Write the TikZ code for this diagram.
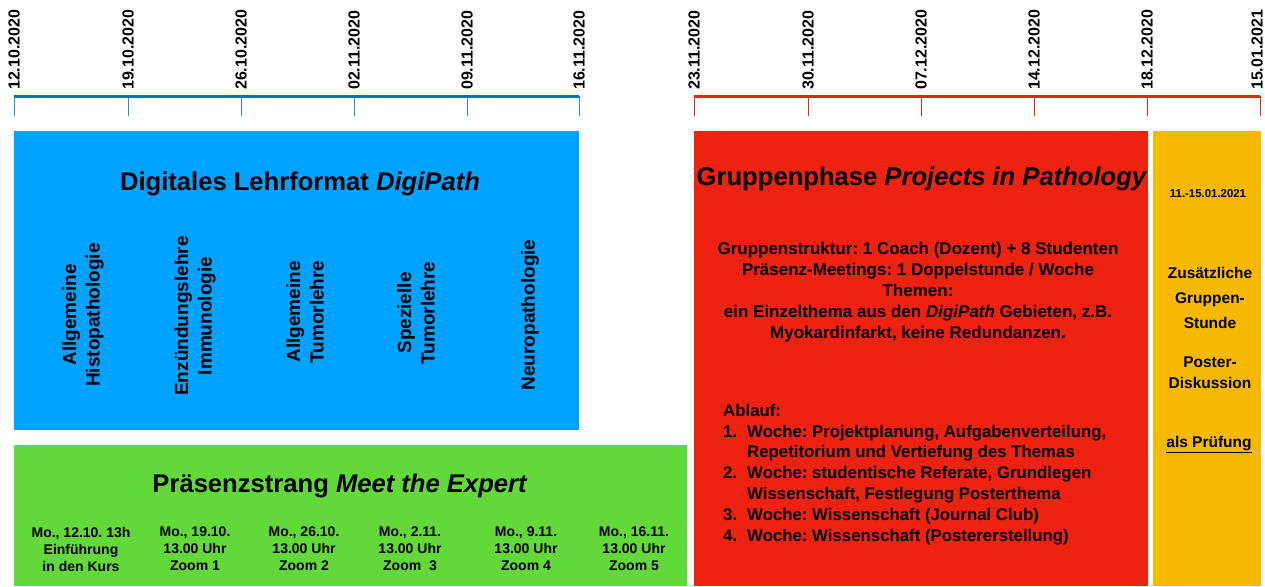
\documentclass[tikz,border=0pt]{standalone}
\usepackage{fontspec}
\setmainfont{Liberation Sans}
\usetikzlibrary{positioning}
\frenchspacing
\definecolor{lineblue}{RGB}{0,112,192}
\definecolor{tickblue}{RGB}{40,140,210}
\definecolor{boxblue}{RGB}{0,162,255}
\definecolor{boxgreen}{RGB}{98,216,58}
\definecolor{boxred}{RGB}{238,34,16}
\definecolor{boxyellow}{RGB}{246,184,0}
\tikzset{
  datum/.style={rotate=90,anchor=west,inner sep=0pt,font=\fontsize{16}{16}\selectfont\bfseries},
  titel/.style={font=\fontsize{25.6}{28}\selectfont\bfseries},
  fach/.style={rotate=90,align=center,inner sep=0pt,font=\fontsize{19}{23.5}\selectfont\bfseries},
  termin/.style={align=center,inner sep=0pt,font=\fontsize{14}{17}\selectfont\bfseries},
  info/.style={align=center,inner sep=0pt,font=\fontsize{15.5}{25}\selectfont\bfseries}
}
\begin{document}
\begin{tikzpicture}[x=1pt,y=-1pt]
  \useasboundingbox (0,0) rectangle (1265,586);
  \fill[white] (0,0) rectangle (1265,586);
  % Zeitachse Online-Phase
  \foreach \x/\d [count=\i] in {14/12.10.2020,128/19.10.2020,241/26.10.2020,
                                354/02.11.2020,467/09.11.2020,579/16.11.2020}{
    \draw[tickblue, line width=1pt] (\x,96) -- (\x,116);
    \node[datum] (db\i) at (\x,90) {\d};
  }
  \draw[lineblue, line width=3pt] (14,96) -- (579,96);
  % Zeitachse Gruppenphase
  \foreach \x/\d [count=\i] in {694/23.11.2020,808/30.11.2020,921/07.12.2020,
                                1034/14.12.2020,1147/18.12.2020,1260/15.01.2021}{
    \draw[boxred, line width=1pt] (\x,96) -- (\x,116);
    \node[datum] (dr\i) at ({min(\x,1257)},90) {\d};
  }
  \draw[boxred, line width=3pt] (694,96) -- (1260,96);
  % DigiPath
  \fill[boxblue] (14,131) rectangle (579,430);
  \node[titel] (digi) at (300,184) {Digitales Lehrformat \textit{DigiPath}};
  \node[fach] (f1) at (83,315) {Allgemeine\\Histopathologie};
  \node[fach] (f2) at (195,316) {Enzündungslehre\\Immunologie};
  \node[fach] (f3) at (305,312) {Allgemeine\\Tumorlehre};
  \node[fach] (f4) at (416,313) {Spezielle\\Tumorlehre};
  \node[fach] (f5) at (530,315) {Neuropathologie};
  % Meet the Expert
  \fill[boxgreen] (14,445) rectangle (687,586);
  \node[titel] (expert) at (340,486) {Präsenzstrang \textit{Meet the Expert}};
  \node[termin] (t1) at (81,549) {Mo., 12.10. 13h\\Einführung\\in den Kurs};
  \node[termin] (t2) at (195,549) {Mo., 19.10.\\13.00 Uhr\\Zoom 1};
  \node[termin] (t3) at (304,549) {Mo., 26.10.\\13.00 Uhr\\Zoom 2};
  \node[termin] (t4) at (410,549) {Mo., 2.11.\\13.00 Uhr\\Zoom\ \ 3};
  \node[termin] (t5) at (526,549) {Mo., 9.11.\\13.00 Uhr\\Zoom 4};
  \node[termin] (t6) at (634,549) {Mo., 16.11.\\13.00 Uhr\\Zoom 5};
  % Projects in Pathology
  \fill[boxred] (694,131) rectangle (1148,586);
  \node[titel] (projekt) at (922,179) {Gruppenphase \textit{Projects in Pathology}};
  \node[info, font=\fontsize{17}{21}\selectfont\bfseries] (struktur) at (918,292)
    {Gruppenstruktur: 1 Coach (Dozent) + 8 Studenten\\
     Präsenz-Meetings: 1 Doppelstunde / Woche\\
     Themen:\\
     ein Einzelthema aus den \textit{DigiPath} Gebieten, z.B.\\
     Myokardinfarkt, keine Redundanzen.};
  \node[info, align=left, anchor=north west, font=\fontsize{16.8}{20.8}\selectfont\bfseries] (ablauf) at (723,404)
    {Ablauf:\\
     \makebox[24pt][l]{1.}Woche: Projektplanung, Aufgabenverteilung,\\
     \hspace*{24pt}Repetitorium und Vertiefung des Themas\\
     \makebox[24pt][l]{2.}Woche: studentische Referate, Grundlegen\\
     \hspace*{24pt}Wissenschaft, Festlegung Posterthema\\
     \makebox[24pt][l]{3.}Woche: Wissenschaft (Journal Club)\\
     \makebox[24pt][l]{4.}Woche: Wissenschaft (Postererstellung)};
  % Abschluss
  \fill[boxyellow] (1153,131) rectangle (1261,586);
  \node[info, font=\fontsize{11.4}{12}\selectfont\bfseries] (woche) at (1208,194) {11.-15.01.2021};
  \node[info] (extra) at (1210,298) {Zusätzliche\\Gruppen-\\Stunde};
  \node[info, font=\fontsize{15.5}{21}\selectfont\bfseries] (poster) at (1210,373) {Poster-\\Diskussion};
  \node[info] (pruefung) at (1209,445) {\underline{als Prüfung}};
\end{tikzpicture}
\end{document}
